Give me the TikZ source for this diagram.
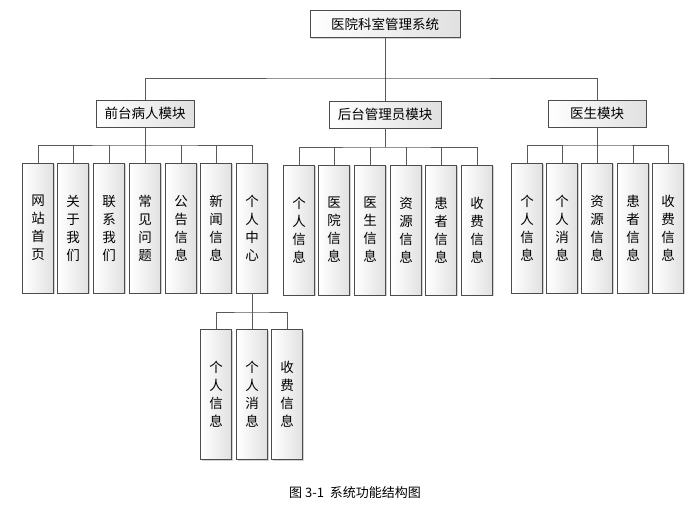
\documentclass[tikz,border=0pt]{standalone}
\usepackage{fontspec}
\setmainfont{Noto Sans CJK SC}
\usetikzlibrary{shadows}
\begin{document}
\begin{tikzpicture}[x=1pt,y=-1pt,
  box/.style={draw=black!70,line width=0.6pt,left color=white,right color=black!12,
    drop shadow={shadow xshift=1.2pt,shadow yshift=-1.2pt,fill=black!35},inner sep=0pt,font=\fontsize{13.5}{16}\selectfont},
  hbox/.style={box,minimum height=27pt},
  leaf/.style={box,minimum width=31pt,minimum height=130pt,align=center,font=\fontsize{13.5}{18}\selectfont},
  ln/.style={draw=black!65,line width=0.8pt}]
\useasboundingbox (0,0) rectangle (695,511);
\node[hbox,minimum width=150pt] (root) at (385,24) {医院科室管理系统};
\node[hbox,minimum width=98pt] (m1) at (145,113.5) {前台病人模块};
\node[hbox,minimum width=112pt] (m2) at (385,114.5) {后台管理员模块};
\node[hbox,minimum width=98pt] (m3) at (597,113.5) {医生模块};
\draw[ln] (root.south) -- (385,78) coordinate (b0);
\draw[ln] (m1.north) |- (b0) -| (m3.north);
\draw[ln] (b0) -- (m2.north);
% front leaves
\foreach \n/\x/\t in {a1/38/网\\站\\首\\页, a2/73/关\\于\\我\\们, a3/109/联\\系\\我\\们, a4/145/常\\见\\问\\题, a5/181/公\\告\\信\\息, a6/216/新\\闻\\信\\息, a7/252/个\\人\\中\\心}
  \node[leaf] (\n) at (\x,228) {\t};
\foreach \n/\x/\t in {b1/299/个\\人\\信\\息, b2/334/医\\院\\信\\息, b3/370/医\\生\\信\\息, b4/406/资\\源\\信\\息, b5/441/患\\者\\信\\息, b6/477/收\\费\\信\\息}
  \node[leaf] (\n) at (\x,230) {\t};
\foreach \n/\x/\t in {c1/527/个\\人\\信\\息, c2/562/个\\人\\消\\息, c3/597/资\\源\\信\\息, c4/633/患\\者\\信\\息, c5/668/收\\费\\信\\息}
  \node[leaf] (\n) at (\x,228) {\t};
\foreach \n/\x/\t in {d1/216/个\\人\\信\\息, d2/252/个\\人\\消\\息, d3/287/收\\费\\信\\息}
  \node[leaf] (\n) at (\x,394.5) {\t};
% buses
\draw[ln] (m1.south) -- (145,145) coordinate (ba);
\draw[ln] (a1.north) |- (ba) -| (a7.north);
\foreach \n in {a2,a3,a4,a5,a6} \draw[ln] (\n.north) -- (\n.north |- ba);
\draw[ln] (m2.south) -- (385,147) coordinate (bb);
\draw[ln] (b1.north) |- (bb) -| (b6.north);
\foreach \n in {b2,b3,b4,b5} \draw[ln] (\n.north) -- (\n.north |- bb);
\draw[ln] (m3.south) -- (597,145) coordinate (bc);
\draw[ln] (c1.north) |- (bc) -| (c5.north);
\foreach \n in {c2,c3,c4} \draw[ln] (\n.north) -- (\n.north |- bc);
\draw[ln] (a7.south) -- (252,312) coordinate (bd);
\draw[ln] (d1.north) |- (bd) -| (d3.north);
\draw[ln] (d2.north) -- (bd);
\node[font=\fontsize{13}{15}\selectfont] (cap) at (355,493) {图 3-1\ \ 系统功能结构图};
\end{tikzpicture}
\end{document}
